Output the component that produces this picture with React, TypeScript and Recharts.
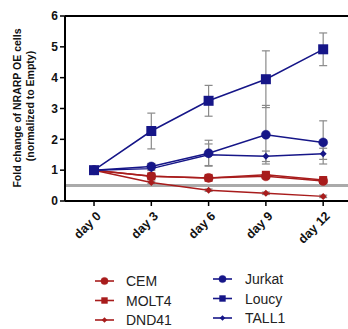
import React from 'react';
import { LineChart, Line, XAxis, YAxis, ErrorBar, ReferenceLine } from 'recharts';

const days = [0, 3, 6, 9, 12];
const cem = [1, 0.8, 0.75, 0.8, 0.65];
const cemErr = [0, 0.06, 0.06, 0.08, 0.06];
const molt4 = [1, 0.8, 0.75, 0.85, 0.68];
const molt4Err = [0, 0.07, 0.06, 0.07, 0.06];
const dnd41 = [1, 0.6, 0.35, 0.25, 0.15];
const dnd41Err = [0, 0.04, 0.04, 0.04, 0.04];
const jurkat = [1, 1.12, 1.55, 2.15, 1.9];
const jurkatErr = [0, 0.1, 0.42, 0.95, 0.7];
const loucy = [1, 2.27, 3.25, 3.95, 4.92];
const loucyErr = [0, 0.58, 0.5, 0.92, 0.53];
const tall1 = [1, 1.05, 1.5, 1.45, 1.53];
const tall1Err = [0, 0.06, 0.35, 0.17, 0.18];
const yTicks = [0, 1, 2, 3, 4, 5, 6];

const RED = '#a81c1c';
const NAVY = '#161688';

const data = days.map((d, i) => ({
  day: d,
  cem: cem[i], cemErr: cemErr[i],
  molt4: molt4[i], molt4Err: molt4Err[i],
  dnd41: dnd41[i], dnd41Err: dnd41Err[i],
  jurkat: jurkat[i], jurkatErr: jurkatErr[i],
  loucy: loucy[i], loucyErr: loucyErr[i],
  tall1: tall1[i], tall1Err: tall1Err[i],
}));

type Shape = 'circle' | 'square' | 'bigsquare' | 'diamond';

const Marker = ({ cx, cy, shape, color, s = 1 }: { cx: number; cy: number; shape: Shape; color: string; s?: number }) => {
  if (shape === 'circle') return <circle cx={cx} cy={cy} r={4.5 * s} fill={color} stroke={color} strokeWidth={0.5} />;
  if (shape === 'square') return <rect x={cx - 4 * s} y={cy - 4 * s} width={8 * s} height={8 * s} fill={color} />;
  if (shape === 'bigsquare') return <rect x={cx - 5 * s} y={cy - 5 * s} width={10 * s} height={10 * s} fill={color} />;
  const r = 3.5 * s;
  return <polygon points={`${cx},${cy - r} ${cx + r},${cy} ${cx},${cy + r} ${cx - r},${cy}`} fill={color} />;
};

const series: { key: string; name: string; color: string; shape: Shape }[] = [
  { key: 'dnd41', name: 'DND41', color: RED, shape: 'diamond' },
  { key: 'cem', name: 'CEM', color: RED, shape: 'circle' },
  { key: 'molt4', name: 'MOLT4', color: RED, shape: 'square' },
  { key: 'tall1', name: 'TALL1', color: NAVY, shape: 'diamond' },
  { key: 'jurkat', name: 'Jurkat', color: NAVY, shape: 'circle' },
  { key: 'loucy', name: 'Loucy', color: NAVY, shape: 'bigsquare' },
];

const legendLeft = [
  { name: 'CEM', color: RED, shape: 'circle' as Shape },
  { name: 'MOLT4', color: RED, shape: 'square' as Shape },
  { name: 'DND41', color: RED, shape: 'diamond' as Shape },
];
const legendRight = [
  { name: 'Jurkat', color: NAVY, shape: 'circle' as Shape },
  { name: 'Loucy', color: NAVY, shape: 'square' as Shape },
  { name: 'TALL1', color: NAVY, shape: 'diamond' as Shape },
];

const LegendContent = () => (
  <svg width={348} height={60} style={{ display: 'block', position: 'absolute', left: 0, top: 271 }}>
    {legendLeft.map((it, i) => (
      <g key={it.name}>
        <line x1={95} x2={114} y1={10 + i * 19.5} y2={10 + i * 19.5} stroke={it.color} strokeWidth={1.6} />
        <Marker cx={104.5} cy={10 + i * 19.5} shape={it.shape} color={it.color} s={0.8} />
        <text x={126} y={10 + i * 19.5} dy="0.36em" fontSize={14} fill="#222" fontFamily="Liberation Sans, Arial, sans-serif">{it.name}</text>
      </g>
    ))}
    {legendRight.map((it, i) => (
      <g key={it.name}>
        <line x1={213} x2={232} y1={8 + i * 19.5} y2={8 + i * 19.5} stroke={it.color} strokeWidth={1.6} />
        <Marker cx={222.5} cy={8 + i * 19.5} shape={it.shape} color={it.color} s={0.8} />
        <text x={245} y={8 + i * 19.5} dy="0.36em" fontSize={14} fill="#222" fontFamily="Liberation Sans, Arial, sans-serif">{it.name}</text>
      </g>
    ))}
  </svg>
);

const XTick = (props: any) => {
  const { x, y, payload } = props;
  return (
    <g transform={`translate(${x},${y + 4})`}>
      <text transform="rotate(-45)" textAnchor="end" dy="0.7em" dx={2} fontSize={12.5} fontWeight="bold" fill="#111" fontFamily="Liberation Sans, Arial, sans-serif">
        {`day ${payload.value}`}
      </text>
    </g>
  );
};

const YLabel = () => (
  <g fontFamily="Liberation Sans, Arial, sans-serif" fontWeight="bold" fontSize={10.5} fill="#111">
    <text transform="translate(21,108) rotate(-90)" textAnchor="middle">Fold change of NRARP OE cells</text>
    <text transform="translate(34,106) rotate(-90)" textAnchor="middle">(normalized to Empty)</text>
  </g>
);

export default function App() {
  return (
    <div style={{ position: 'absolute', left: 0, top: 0, width: 348, height: 329, background: '#fff' }}>
      <LineChart width={348} height={329} data={data} margin={{ top: 16, right: 0, left: 0, bottom: 83 }}>
        <XAxis
          dataKey="day"
          type="number"
          domain={[-1.52, 13.3]}
          allowDataOverflow
          ticks={days}
          tick={<XTick />}
          tickSize={5}
          height={45}
          axisLine={{ stroke: '#000', strokeWidth: 2 }}
          tickLine={{ stroke: '#000', strokeWidth: 1.5 }}
          interval={0}
        />
        <YAxis
          domain={[0, 6]}
          ticks={yTicks}
          width={65}
          tickSize={5}
          axisLine={{ stroke: '#000', strokeWidth: 2 }}
          tickLine={{ stroke: '#000', strokeWidth: 1.5 }}
          tick={{ fontSize: 12, fontWeight: 'bold', fill: '#111', fontFamily: 'Liberation Sans, Arial, sans-serif' }}
        />
        <ReferenceLine y={6} stroke="#000" strokeWidth={2} />
        <ReferenceLine y={0.5} stroke="#aaaaaa" strokeWidth={3} />
        {series.map((s) => (
          <Line
            key={s.key}
            dataKey={s.key}
            name={s.name}
            stroke={s.color}
            strokeWidth={1.5}
            isAnimationActive={false}
            dot={(p: any) => <Marker key={`${s.key}-${p.index}`} cx={p.cx} cy={p.cy} shape={s.shape} color={s.color} />}
          >
            <ErrorBar dataKey={`${s.key}Err`} stroke="#8a8a8a" strokeWidth={1.2} width={4} direction="y" />
          </Line>
        ))}
        <YLabel />
      </LineChart>
      <LegendContent />
    </div>
  );
}
